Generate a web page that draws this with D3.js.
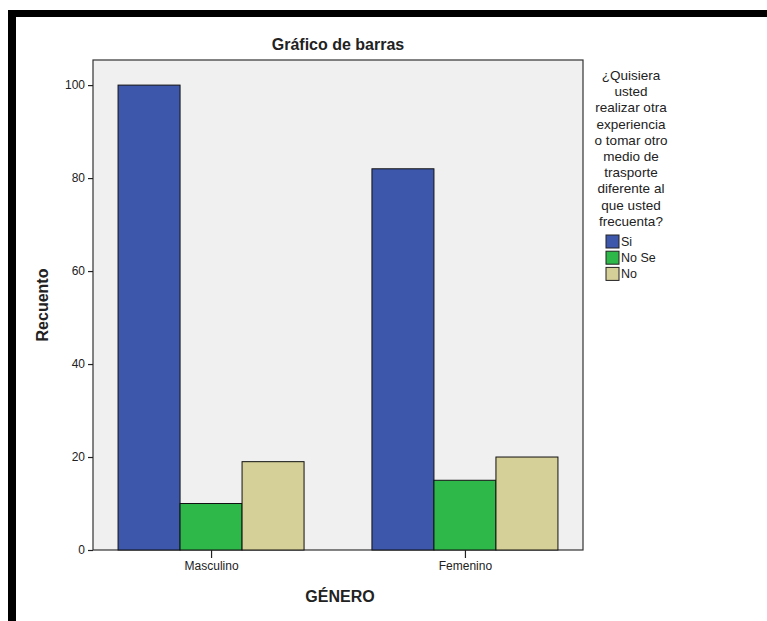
<!DOCTYPE html>
<html>
<head>
    <script src="https://cdnjs.cloudflare.com/ajax/libs/d3/7.8.5/d3.min.js"></script>
    <style>
        body { margin: 0; padding: 0; background: white; }
        text { font-family: Arial, "Liberation Sans", sans-serif; fill: #222; }
    </style>
</head>
<body>
    <svg id="chart" width="767" height="621"></svg>
    <script>
        // Data
        const generos = ['Masculino', 'Femenino'];
        const respuestas = ['Si', 'No Se', 'No'];
        const siValues = [100, 82];
        const noSeValues = [10, 15];
        const noValues = [19, 20];
        const yTicks = [0, 20, 40, 60, 80, 100];
        const colores = ['#3d57ab', '#2eb84a', '#d5cf98'];
        const legendTitle = ['¿Quisiera', 'usted', 'realizar otra', 'experiencia',
            'o tomar otro', 'medio de', 'trasporte', 'diferente al', 'que usted', 'frecuenta?'];

        const series = [siValues, noSeValues, noValues];

        const svg = d3.select('#chart');
        const plot = { left: 93, top: 60, right: 583, bottom: 550 };

        // Black frame (top and left)
        svg.append('rect').attr('x', 8).attr('y', 10).attr('width', 759).attr('height', 7).attr('fill', '#000');
        svg.append('rect').attr('x', 8).attr('y', 10).attr('width', 8).attr('height', 611).attr('fill', '#000');

        // Plot background
        svg.append('rect')
            .attr('x', plot.left).attr('y', plot.top)
            .attr('width', plot.right - plot.left).attr('height', plot.bottom - plot.top)
            .attr('fill', '#f0f0f0')
            .attr('stroke', '#333').attr('stroke-width', 1.2);

        const x = d3.scalePoint().domain(generos).range([plot.left, plot.right]).padding(0.465);
        const y = d3.scaleLinear().domain([0, 105.4]).range([plot.bottom, plot.top]);
        const barW = 62;

        // Bars
        generos.forEach((g, gi) => {
            series.forEach((s, si) => {
                const bx = x(g) - barW * 1.5 + si * barW;
                svg.append('rect')
                    .attr('x', bx).attr('y', y(s[gi]))
                    .attr('width', barW).attr('height', y(0) - y(s[gi]))
                    .attr('fill', colores[si])
                    .attr('stroke', '#111').attr('stroke-width', 1);
            });
        });

        // Y axis
        const yAxis = d3.axisLeft(y).tickValues(yTicks).tickSize(5).tickPadding(3);
        const gy = svg.append('g').attr('transform', `translate(${plot.left},0)`).call(yAxis);
        gy.select('.domain').remove();
        gy.selectAll('line').attr('stroke', '#222').attr('stroke-width', 1.2);
        gy.selectAll('text').attr('font-size', 12).style('font-family', 'Arial, "Liberation Sans", sans-serif').attr('fill', '#222');

        // X axis
        const xAxis = d3.axisBottom(x).tickSize(8).tickPadding(3);
        const gx = svg.append('g').attr('transform', `translate(0,${plot.bottom})`).call(xAxis);
        gx.select('.domain').remove();
        gx.selectAll('line').attr('stroke', '#222').attr('stroke-width', 1.2);
        gx.selectAll('text').attr('font-size', 12).style('font-family', 'Arial, "Liberation Sans", sans-serif').attr('fill', '#222');

        // Titles
        svg.append('text')
            .attr('x', (plot.left + plot.right) / 2).attr('y', 50)
            .attr('text-anchor', 'middle').attr('font-size', 16).attr('font-weight', 'bold')
            .text('Gráfico de barras');

        svg.append('text')
            .attr('x', (plot.left + plot.right) / 2 + 2).attr('y', 602)
            .attr('text-anchor', 'middle').attr('font-size', 16).attr('font-weight', 'bold')
            .text('GÉNERO');

        svg.append('text')
            .attr('transform', 'translate(48,305) rotate(-90)')
            .attr('text-anchor', 'middle').attr('font-size', 16).attr('font-weight', 'bold')
            .text('Recuento');

        // Legend
        const legend = svg.append('g');
        legendTitle.forEach((t, i) => {
            legend.append('text')
                .attr('x', 631).attr('y', 80 + i * 16.2)
                .attr('text-anchor', 'middle').attr('font-size', 13.5)
                .text(t);
        });
        respuestas.forEach((r, i) => {
            legend.append('rect')
                .attr('x', 606).attr('y', 235 + i * 16.2)
                .attr('width', 13).attr('height', 13)
                .attr('fill', colores[i]).attr('stroke', '#222').attr('stroke-width', 1);
            legend.append('text')
                .attr('x', 621).attr('y', 246 + i * 16.2)
                .attr('font-size', 12.5)
                .text(r);
        });
    </script>
</body>
</html>
